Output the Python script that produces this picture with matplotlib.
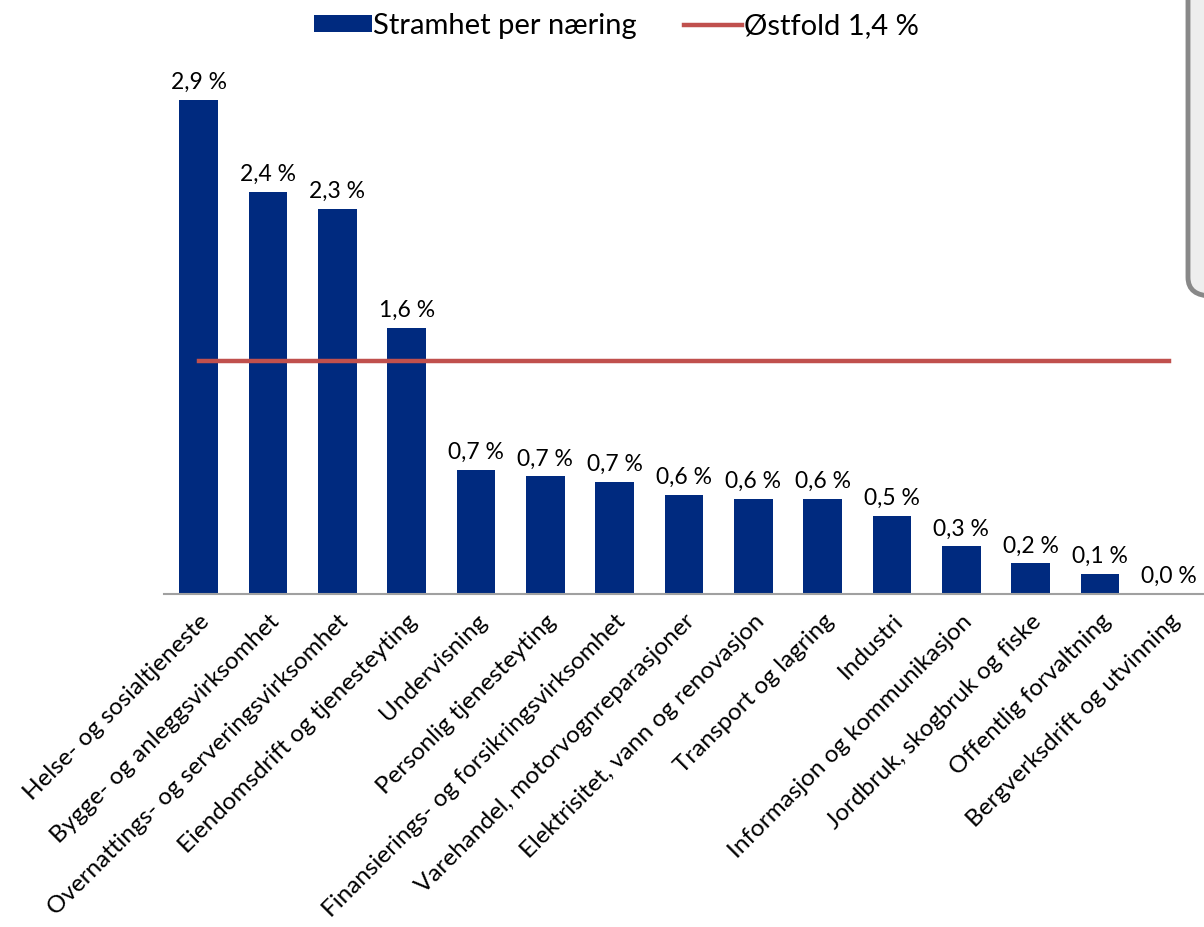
import matplotlib.pyplot as plt
from matplotlib.patches import FancyBboxPatch

# Data
naeringer = [
    'Helse- og sosialtjeneste',
    'Bygge- og anleggsvirksomhet',
    'Overnattings- og serveringsvirksomhet',
    'Eiendomsdrift og tjenesteyting',
    'Undervisning',
    'Personlig tjenesteyting',
    'Finansierings- og forsikringsvirksomhet',
    'Varehandel, motorvognreparasjoner',
    'Elektrisitet, vann og renovasjon',
    'Transport og lagring',
    'Industri',
    'Informasjon og kommunikasjon',
    'Jordbruk, skogbruk og fiske',
    'Offentlig forvaltning',
    'Bergverksdrift og utvinning',
]
stramhet = [2.90, 2.36, 2.26, 1.56, 0.73, 0.69, 0.66, 0.58, 0.56, 0.56, 0.46, 0.28, 0.18, 0.12, 0.0]
ostfold = 1.37

plt.rcParams['font.family'] = ['Lato', 'DejaVu Sans']

fig = plt.figure(figsize=(12.04, 9.27), dpi=100)
ax = fig.add_axes([164 / 1204, 1 - 594 / 927, 1 - 164 / 1204, (594 - 83) / 927])

x = list(range(len(naeringer)))
bars = ax.bar(x, stramhet, width=0.56, color='#002A7F', label='Stramhet per næring', zorder=2)
linje, = ax.plot(x, [ostfold] * len(x), color='#C0504D', lw=3.2,
                 label=f'Østfold {ostfold:.1f} %'.replace('.', ','), zorder=3)

for xi, v in zip(x, stramhet):
    ax.annotate(f'{v:.1f} %'.replace('.', ','), (xi, v), xytext=(0, 5),
                textcoords='offset points', ha='center', va='bottom', fontsize=16.5)

ax.set_xlim(-0.5, 14.5)
ax.set_ylim(0, 3.0)
ax.set_yticks([])
ax.set_xticks(x)
ax.set_xticklabels(naeringer, rotation=45, ha='right', rotation_mode='anchor', fontsize=17.5)
ax.tick_params(axis='x', length=0, pad=12)
for s in ['top', 'right', 'left']:
    ax.spines[s].set_visible(False)
ax.spines['bottom'].set_color('#A0A0A0')
ax.spines['bottom'].set_linewidth(1.5)
ax.set_clip_on(False)

fig.legend([bars, linje], [bars.get_label(), linje.get_label()],
           loc='center', bbox_to_anchor=(616 / 1204, 1 - 26 / 927), ncol=2, frameon=False,
           fontsize=21, handlelength=2.0, handleheight=0.5, handletextpad=0.05, columnspacing=1.6)

# grey box at the top right, partly cut off
box = FancyBboxPatch((1188 / 1204, 1 - 296 / 927), 0.1, 0.4,
                     boxstyle='round,pad=0,rounding_size=0.02', transform=fig.transFigure,
                     facecolor='#EEEEEE', edgecolor='#888888', lw=3.5, zorder=5)
fig.patches.append(box)

fig.savefig('out.png', dpi=100)
